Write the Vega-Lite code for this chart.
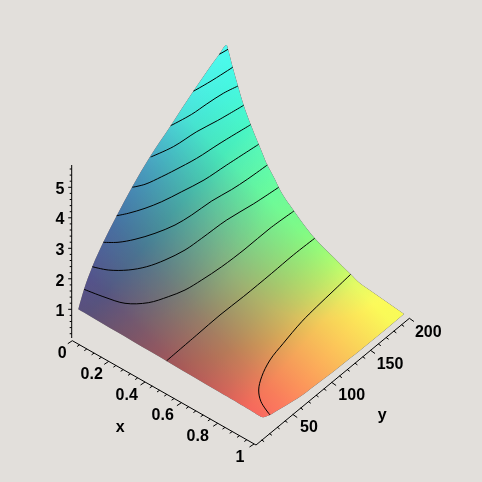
{"$schema":"https://vega.github.io/schema/vega-lite/v6.json","width":482,"height":482,"autosize":"none","padding":0,"background":"#e2dfdb","config":{"view":{"stroke":null}},
"datasets":{
"surface":[{"h":78.3,"top":309.3,"bot":309.3},{"h":84,"top":289.3,"bot":312.6},{"h":92.3,"top":266.7,"bot":317.5},{"h":103.3,"top":242.3,"bot":324},{"h":116.7,"top":215.7,"bot":331.8},{"h":132.3,"top":186.7,"bot":340.9},{"h":150,"top":156.7,"bot":351.3},{"h":170.7,"top":125.7,"bot":363.4},{"h":193.3,"top":91.3,"bot":376.7},{"h":219.3,"top":54.3,"bot":392},{"h":226.7,"top":45,"bot":396.3},{"h":228,"top":49.3,"bot":397},{"h":232.7,"top":67.3,"bot":399.8},{"h":238,"top":86,"bot":402.9},{"h":243.7,"top":105.3,"bot":406.2},{"h":250,"top":122.7,"bot":410},{"h":258.7,"top":144.3,"bot":415.5},{"h":262.7,"top":153.9,"bot":417.3},{"h":267.3,"top":165,"bot":416},{"h":270,"top":170,"bot":415},{"h":275.3,"top":180,"bot":411.8},{"h":278.7,"top":187.3,"bot":409.7},{"h":294,"top":211,"bot":400.4},{"h":300,"top":219.5,"bot":396.7},{"h":314.7,"top":238.3,"bot":385.7},{"h":333.3,"top":257,"bot":371.7},{"h":350.7,"top":274.3,"bot":357.8},{"h":360,"top":283.3,"bot":350.4},{"h":366.7,"top":288,"bot":345},{"h":404,"top":314,"bot":314}],
"contours":[
{"c":0,"i":0,"h":350.7,"v":274.3},{"c":0,"i":1,"h":335,"v":289.3},{"c":0,"i":2,"h":316.7,"v":306.7},{"c":0,"i":3,"h":301.7,"v":321.7},{"c":0,"i":4,"h":283.3,"v":343.3},{"c":0,"i":5,"h":270,"v":360},{"c":0,"i":6,"h":261.7,"v":376.7},{"c":0,"i":7,"h":258.7,"v":390},{"c":0,"i":8,"h":261,"v":401.7},{"c":0,"i":9,"h":270,"v":415},
{"c":1,"i":0,"h":314.7,"v":238.3},{"c":1,"i":1,"h":293.3,"v":255},{"c":1,"i":2,"h":271.7,"v":273.3},{"c":1,"i":3,"h":243.3,"v":296.7},{"c":1,"i":4,"h":220,"v":315},{"c":1,"i":5,"h":196.7,"v":335},{"c":1,"i":6,"h":166.7,"v":360.7},
{"c":2,"i":0,"h":84,"v":289.3},{"c":2,"i":1,"h":105,"v":297.3},{"c":2,"i":2,"h":125,"v":303.3},{"c":2,"i":3,"h":148.3,"v":302.7},{"c":2,"i":4,"h":168.3,"v":296.7},{"c":2,"i":5,"h":185,"v":290},{"c":2,"i":6,"h":201.7,"v":280},{"c":2,"i":7,"h":221.7,"v":266.7},{"c":2,"i":8,"h":245,"v":249},{"c":2,"i":9,"h":270,"v":228.3},{"c":2,"i":10,"h":294,"v":211},
{"c":3,"i":0,"h":92.3,"v":266.7},{"c":3,"i":1,"h":108.3,"v":270},{"c":3,"i":2,"h":128.3,"v":270},{"c":3,"i":3,"h":146.7,"v":266.7},{"c":3,"i":4,"h":165,"v":260},{"c":3,"i":5,"h":185,"v":250},{"c":3,"i":6,"h":201.7,"v":238.3},{"c":3,"i":7,"h":226.7,"v":220},{"c":3,"i":8,"h":253.3,"v":204},{"c":3,"i":9,"h":278.7,"v":187.3},
{"c":4,"i":0,"h":103.3,"v":242.3},{"c":4,"i":1,"h":118,"v":242.3},{"c":4,"i":2,"h":135,"v":239.3},{"c":4,"i":3,"h":155,"v":233.3},{"c":4,"i":4,"h":175,"v":225},{"c":4,"i":5,"h":191.7,"v":215},{"c":4,"i":6,"h":211.7,"v":201},{"c":4,"i":7,"h":231.7,"v":189.5},{"c":4,"i":8,"h":247.3,"v":179.3},{"c":4,"i":9,"h":267.3,"v":165},
{"c":5,"i":0,"h":116.7,"v":215.7},{"c":5,"i":1,"h":128.3,"v":213.3},{"c":5,"i":2,"h":145,"v":208.3},{"c":5,"i":3,"h":161.7,"v":201.7},{"c":5,"i":4,"h":181.7,"v":191.7},{"c":5,"i":5,"h":204,"v":180},{"c":5,"i":6,"h":226.7,"v":165},{"c":5,"i":7,"h":258.7,"v":144.3},
{"c":6,"i":0,"h":132.3,"v":187.3},{"c":6,"i":1,"h":145,"v":184.3},{"c":6,"i":2,"h":161.7,"v":176.7},{"c":6,"i":3,"h":175,"v":170},{"c":6,"i":4,"h":196.7,"v":158.3},{"c":6,"i":5,"h":220,"v":143.3},{"c":6,"i":6,"h":250.7,"v":124.7},
{"c":7,"i":0,"h":150.7,"v":157},{"c":7,"i":1,"h":173.3,"v":146.7},{"c":7,"i":2,"h":196.7,"v":131.7},{"c":7,"i":3,"h":217.3,"v":120.7},{"c":7,"i":4,"h":243.7,"v":105.3},
{"c":8,"i":0,"h":170.7,"v":125.7},{"c":8,"i":1,"h":191.7,"v":114.3},{"c":8,"i":2,"h":206.7,"v":104},{"c":8,"i":3,"h":223.3,"v":93.3},{"c":8,"i":4,"h":238,"v":86},
{"c":9,"i":0,"h":193.3,"v":91.3},{"c":9,"i":1,"h":210,"v":81.7},{"c":9,"i":2,"h":232.7,"v":67.3},
{"c":10,"i":0,"h":219.3,"v":54.3},{"c":10,"i":1,"h":228,"v":49.3}],
"ticks":[
{"a":71.7,"b":165,"p":71.7,"q":338},{"a":72.3,"b":340.7,"p":256,"q":445},{"a":256,"b":445,"p":409.4,"q":318.3},
{"a":71.7,"b":333.7,"p":69.7,"q":333.7},{"a":71.7,"b":327.6,"p":69.7,"q":327.6},{"a":71.7,"b":321.5,"p":69.7,"q":321.5},{"a":71.7,"b":315.4,"p":69.7,"q":315.4},{"a":71.7,"b":309.3,"p":68.2,"q":309.3},{"a":71.7,"b":303.2,"p":69.7,"q":303.2},{"a":71.7,"b":297.1,"p":69.7,"q":297.1},{"a":71.7,"b":291,"p":69.7,"q":291},{"a":71.7,"b":284.9,"p":69.7,"q":284.9},{"a":71.7,"b":278.8,"p":68.2,"q":278.8},{"a":71.7,"b":272.7,"p":69.7,"q":272.7},{"a":71.7,"b":266.6,"p":69.7,"q":266.6},{"a":71.7,"b":260.5,"p":69.7,"q":260.5},{"a":71.7,"b":254.4,"p":69.7,"q":254.4},{"a":71.7,"b":248.3,"p":68.2,"q":248.3},{"a":71.7,"b":242.2,"p":69.7,"q":242.2},{"a":71.7,"b":236.1,"p":69.7,"q":236.1},{"a":71.7,"b":230,"p":69.7,"q":230},{"a":71.7,"b":223.9,"p":69.7,"q":223.9},{"a":71.7,"b":217.8,"p":68.2,"q":217.8},{"a":71.7,"b":211.7,"p":69.7,"q":211.7},{"a":71.7,"b":205.6,"p":69.7,"q":205.6},{"a":71.7,"b":199.5,"p":69.7,"q":199.5},{"a":71.7,"b":193.4,"p":69.7,"q":193.4},{"a":71.7,"b":187.3,"p":68.2,"q":187.3},{"a":71.7,"b":181.2,"p":69.7,"q":181.2},{"a":71.7,"b":175.1,"p":69.7,"q":175.1},{"a":71.7,"b":169,"p":69.7,"q":169},
{"a":72.3,"b":340.7,"p":67.8,"q":343.7},{"a":79.6,"b":344.8,"p":77.1,"q":346.5},{"a":86.8,"b":349,"p":84.3,"q":350.7},{"a":94.1,"b":353.1,"p":91.6,"q":354.8},{"a":101.4,"b":357.2,"p":98.9,"q":358.9},{"a":108.7,"b":361.4,"p":104.2,"q":364.4},{"a":115.9,"b":365.5,"p":113.4,"q":367.2},{"a":123.2,"b":369.6,"p":120.7,"q":371.3},{"a":130.5,"b":373.7,"p":128,"q":375.4},{"a":137.7,"b":377.9,"p":135.2,"q":379.6},{"a":145,"b":382,"p":140.5,"q":385},{"a":152.3,"b":386.1,"p":149.8,"q":387.8},{"a":159.5,"b":390.3,"p":157,"q":392},{"a":166.8,"b":394.4,"p":164.3,"q":396.1},{"a":174.1,"b":398.5,"p":171.6,"q":400.2},{"a":181.4,"b":402.7,"p":176.9,"q":405.7},{"a":188.6,"b":406.8,"p":186.1,"q":408.5},{"a":195.9,"b":410.9,"p":193.4,"q":412.6},{"a":203.2,"b":415,"p":200.7,"q":416.7},{"a":210.4,"b":419.2,"p":207.9,"q":420.9},{"a":217.7,"b":423.3,"p":213.2,"q":426.3},{"a":225,"b":427.4,"p":222.5,"q":429.1},{"a":232.2,"b":431.6,"p":229.7,"q":433.3},{"a":239.5,"b":435.7,"p":237,"q":437.4},{"a":246.8,"b":439.8,"p":244.3,"q":441.5},{"a":254,"b":444,"p":249.5,"q":447},
{"a":261.6,"b":439.9,"p":264.1,"q":441.7},{"a":269.4,"b":433.5,"p":271.9,"q":435.3},{"a":277.1,"b":427.1,"p":279.6,"q":428.9},{"a":284.9,"b":420.7,"p":287.4,"q":422.5},{"a":292.7,"b":414.3,"p":297.2,"q":417.5},{"a":300.5,"b":407.9,"p":303,"q":409.7},{"a":308.3,"b":401.5,"p":310.8,"q":403.3},{"a":316,"b":395.1,"p":318.5,"q":396.9},{"a":323.8,"b":388.7,"p":326.3,"q":390.5},{"a":331.6,"b":382.3,"p":336.1,"q":385.5},{"a":339.4,"b":375.9,"p":341.9,"q":377.7},{"a":347.2,"b":369.5,"p":349.7,"q":371.3},{"a":354.9,"b":363.1,"p":357.4,"q":364.9},{"a":362.7,"b":356.7,"p":365.2,"q":358.5},{"a":370.5,"b":350.3,"p":375,"q":353.5},{"a":378.3,"b":343.9,"p":380.8,"q":345.7},{"a":386.1,"b":337.5,"p":388.6,"q":339.3},{"a":393.8,"b":331.1,"p":396.3,"q":332.9},{"a":401.6,"b":324.7,"p":404.1,"q":326.5},{"a":409.4,"b":318.3,"p":413.9,"q":321.5}],
"labels":[
{"t":"1","h":60,"v":311},{"t":"2","h":60,"v":280.7},{"t":"3","h":60,"v":250},{"t":"4","h":60,"v":219.3},{"t":"5","h":60,"v":189.3},
{"t":"0","h":62.3,"v":352.5},{"t":"0.2","h":91.7,"v":374},{"t":"0.4","h":126.7,"v":395},{"t":"0.6","h":162.7,"v":415},{"t":"0.8","h":197.7,"v":436},{"t":"1","h":240,"v":456.7},{"t":"x","h":120.3,"v":427},
{"t":"50","h":309,"v":427},{"t":"100","h":351.7,"v":395},{"t":"150","h":390,"v":364},{"t":"200","h":428.3,"v":332.3},{"t":"y","h":382.3,"v":415}]},
"encoding":{"x":{"field":"h","type":"quantitative","axis":null,"scale":{"domain":[0,482],"nice":false,"zero":false}},"y":{"field":"top","type":"quantitative","axis":null,"scale":{"domain":[482,0],"nice":false,"zero":false}}},
"layer":[
{"data":{"name":"surface"},"mark":{"type":"area","color":"#000000","opacity":1,"interpolate":"monotone"},"encoding":{"y2":{"field":"bot"}}},
{"data":{"name":"surface"},"mark":{"type":"area","blend":"screen","opacity":1,"interpolate":"monotone","color":{"gradient":"linear","x1":0.23,"y1":0.224,"x2":0.873,"y2":0.851,"stops":[{"offset":0,"color":"rgb(78,0,0)"},{"offset":0.096,"color":"rgb(70,0,0)"},{"offset":0.225,"color":"rgb(72,0,0)"},{"offset":0.386,"color":"rgb(112,0,0)"},{"offset":0.514,"color":"rgb(148,0,0)"},{"offset":0.643,"color":"rgb(180,0,0)"},{"offset":0.72,"color":"rgb(205,0,0)"},{"offset":0.82,"color":"rgb(245,0,0)"},{"offset":0.9,"color":"rgb(252,0,0)"},{"offset":1,"color":"rgb(248,0,0)"}]}},"encoding":{"y2":{"field":"bot"}}},
{"data":{"name":"surface"},"mark":{"type":"area","blend":"screen","opacity":1,"interpolate":"monotone","color":{"gradient":"linear","x1":-0.1775,"y1":0.2028,"x2":-0.3532,"y2":0.4037,"stops":[{"offset":0,"color":"rgb(0,0,0)"},{"offset":0.53,"color":"rgb(15,0,0)"},{"offset":1,"color":"rgb(25,0,0)"}]}},"encoding":{"y2":{"field":"bot"}}},
{"data":{"name":"surface"},"mark":{"type":"area","blend":"screen","opacity":1,"interpolate":"monotone","color":{"gradient":"linear","x1":0.2085,"y1":-0.2384,"x2":-0.357,"y2":0.408,"stops":[{"offset":0,"color":"rgb(0,248,0)"},{"offset":0.165,"color":"rgb(0,252,0)"},{"offset":0.282,"color":"rgb(0,250,0)"},{"offset":0.447,"color":"rgb(0,205,0)"},{"offset":0.565,"color":"rgb(0,172,0)"},{"offset":0.729,"color":"rgb(0,125,0)"},{"offset":0.894,"color":"rgb(0,88,0)"},{"offset":1,"color":"rgb(0,80,0)"}]}},"encoding":{"y2":{"field":"bot"}}},
{"data":{"name":"surface"},"mark":{"type":"area","blend":"screen","opacity":1,"interpolate":"monotone","color":{"gradient":"linear","x1":0.0232,"y1":0.0942,"x2":0.2762,"y2":1.1232,"stops":[{"offset":0,"color":"rgb(0,0,242)"},{"offset":0.128,"color":"rgb(0,0,222)"},{"offset":0.256,"color":"rgb(0,0,190)"},{"offset":0.385,"color":"rgb(0,0,160)"},{"offset":0.513,"color":"rgb(0,0,135)"},{"offset":0.641,"color":"rgb(0,0,108)"},{"offset":0.769,"color":"rgb(0,0,88)"},{"offset":0.897,"color":"rgb(0,0,90)"},{"offset":1,"color":"rgb(0,0,100)"}]}},"encoding":{"y2":{"field":"bot"}}},
{"data":{"name":"surface"},"mark":{"type":"area","blend":"multiply","opacity":1,"interpolate":"monotone","color":{"gradient":"radial","x1":0.159,"y1":0.336,"r1":0,"x2":0.159,"y2":0.336,"r2":0.42,"stops":[{"offset":0,"color":"rgb(255,200,255)"},{"offset":1,"color":"rgb(255,255,255)"}]}},"encoding":{"y2":{"field":"bot"}}},
{"data":{"name":"surface"},"mark":{"type":"area","blend":"multiply","opacity":1,"interpolate":"monotone","color":{"gradient":"radial","x1":0.711,"y1":0.457,"r1":0,"x2":0.711,"y2":0.457,"r2":0.28,"stops":[{"offset":0,"color":"rgb(184,255,255)"},{"offset":1,"color":"rgb(255,255,255)"}]}},"encoding":{"y2":{"field":"bot"}}},
{"data":{"name":"contours"},"mark":{"type":"line","color":"#000000","strokeWidth":1,"interpolate":"catmull-rom"},"encoding":{"y":{"field":"v","type":"quantitative"},"detail":{"field":"c"},"order":{"field":"i","type":"quantitative"}}},
{"data":{"name":"ticks"},"mark":{"type":"rule","color":"#000000","strokeWidth":1},"encoding":{"x":{"field":"a","type":"quantitative"},"y":{"field":"b","type":"quantitative"},"x2":{"field":"p"},"y2":{"field":"q"}}},
{"data":{"name":"labels"},"mark":{"type":"text","font":"Liberation Sans","fontWeight":"bold","fontSize":16,"color":"#000000","align":"center","baseline":"middle"},"encoding":{"y":{"field":"v","type":"quantitative"},"text":{"field":"t","type":"nominal"}}}
]}
